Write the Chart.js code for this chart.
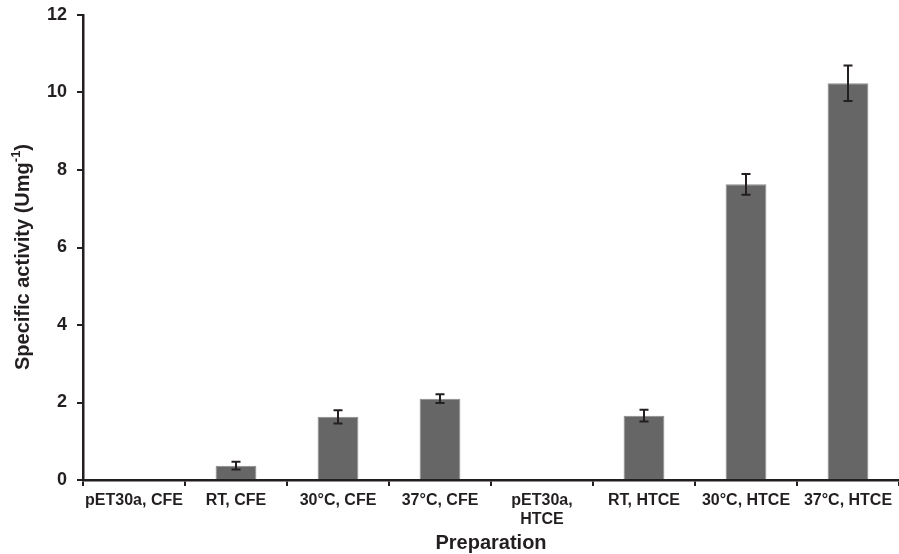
<!DOCTYPE html>
<html>
<head>
<meta charset="utf-8">
<script src="https://cdn.jsdelivr.net/npm/chart.js@4.4.1/dist/chart.umd.min.js"></script>
<style>
html,body{margin:0;padding:0;background:#fff;}
#wrap{width:899px;height:554px;position:relative;}
</style>
</head>
<body>
<div id="wrap"><canvas id="c" width="899" height="554"></canvas></div>
<script>
const categories = ['pET30a, CFE', 'RT, CFE', '30°C, CFE', '37°C, CFE', ['pET30a,', 'HTCE'], 'RT, HTCE', '30°C, HTCE', '37°C, HTCE'];
const activity = [0, 0.37, 1.63, 2.10, 0, 1.66, 7.63, 10.24];
const errors = [0, 0.10, 0.17, 0.11, 0, 0.15, 0.27, 0.46];
const yTicks = [0, 2, 4, 6, 8, 10, 12];
const xTitle = 'Preparation';
const yTitle = 'Specific activity (Umg';
const yTitleSup = '-1';

const FONT = '"Liberation Sans", Arial, Helvetica, sans-serif';
const INK = '#231f20';

const errorBars = {
  id: 'errorBars',
  afterDatasetsDraw(chart) {
    const ctx = chart.ctx;
    const meta = chart.getDatasetMeta(0);
    const y = chart.scales.y;
    ctx.save();
    ctx.strokeStyle = INK;
    ctx.lineWidth = 2;
    meta.data.forEach((bar, i) => {
      const e = errors[i];
      if (!e) return;
      const v = activity[i];
      const yt = y.getPixelForValue(v + e);
      const yb = y.getPixelForValue(v - e);
      const x = bar.x;
      ctx.beginPath();
      ctx.moveTo(x, yt); ctx.lineTo(x, yb);
      ctx.moveTo(x - 4.5, yt); ctx.lineTo(x + 4.5, yt);
      ctx.moveTo(x - 4.5, yb); ctx.lineTo(x + 4.5, yb);
      ctx.stroke();
    });
    ctx.restore();
  }
};

const titles = {
  id: 'titles',
  afterDraw(chart) {
    const ctx = chart.ctx;
    ctx.save();
    ctx.fillStyle = INK;
    // x title
    ctx.font = 'bold 20px ' + FONT;
    ctx.textAlign = 'center';
    ctx.textBaseline = 'middle';
    ctx.fillText(xTitle, 491, 543);
    // y title with superscript
    ctx.translate(22, 257);
    ctx.rotate(-Math.PI / 2);
    const mainFont = 'bold 20px ' + FONT;
    const supFont = 'bold 13px ' + FONT;
    ctx.font = mainFont;
    const w1 = ctx.measureText(yTitle).width;
    ctx.font = supFont;
    const w2 = ctx.measureText(yTitleSup).width;
    ctx.font = mainFont;
    const w3 = ctx.measureText(')').width;
    const total = w1 + w2 + w3;
    let x0 = -total / 2;
    ctx.textAlign = 'left';
    ctx.textBaseline = 'alphabetic';
    ctx.fillText(yTitle, x0, 7);
    ctx.font = supFont;
    ctx.fillText(yTitleSup, x0 + w1, -2);
    ctx.font = mainFont;
    ctx.fillText(')', x0 + w1 + w2, 7);
    ctx.restore();
  }
};

new Chart(document.getElementById('c'), {
  type: 'bar',
  data: {
    labels: categories,
    datasets: [{
      data: activity,
      backgroundColor: '#666666',
      borderColor: '#8c8c8c',
      borderWidth: 1,
      categoryPercentage: 1,
      barPercentage: 0.4
    }]
  },
  options: {
    responsive: false,
    animation: false,
    devicePixelRatio: 1,
    layout: { padding: { top: 15, left: 0, right: 0, bottom: 0 } },
    plugins: { legend: { display: false }, tooltip: { enabled: false } },
    scales: {
      x: {
        offset: true,
        grid: { offset: true, drawOnChartArea: false, drawTicks: true, tickLength: 6, color: INK, lineWidth: 2 },
        border: { display: true, color: INK, width: 2.5 },
        ticks: {
          color: INK,
          font: { family: FONT, size: 16, weight: 'bold' },
          padding: 5,
          maxRotation: 0,
          autoSkip: false
        },
        afterFit(s) { s.height = 74; s.paddingLeft = 0; s.paddingRight = 0; }
      },
      y: {
        min: 0, max: 12,
        afterBuildTicks(s) { s.ticks = yTicks.map(v => ({ value: v })); },
        grid: { drawOnChartArea: false, drawTicks: true, tickLength: 6, color: INK, lineWidth: 2 },
        border: { display: true, color: INK, width: 2.5 },
        ticks: {
          color: INK,
          font: { family: FONT, size: 18, weight: 'bold' },
          padding: 10
        },
        afterFit(s) { s.width = 83; s.paddingTop = 0; s.paddingBottom = 0; }
      }
    }
  },
  plugins: [errorBars, titles]
});
</script>
</body>
</html>
